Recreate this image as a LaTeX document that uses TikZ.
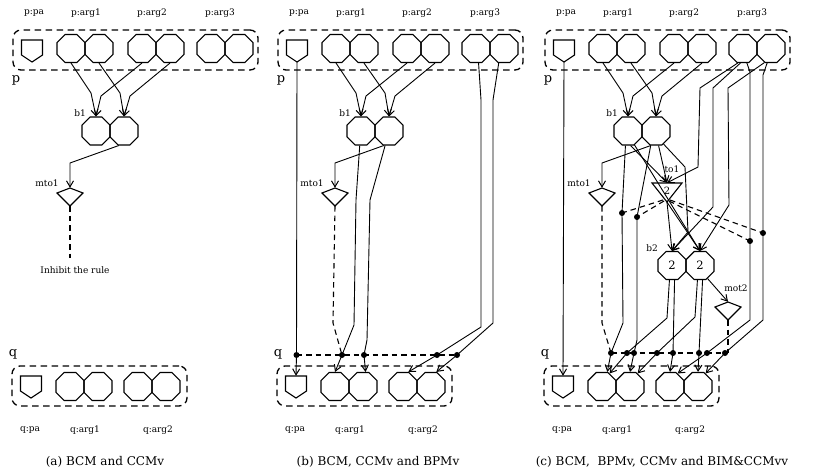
\documentclass[tikz,border=0pt]{standalone}
\usepackage{fontspec}
\setmainfont{DejaVu Serif}
\usetikzlibrary{arrows.meta,shapes.geometric,calc}

\tikzset{
 ln/.style={line width=0.9pt},
 arr/.style={line width=0.9pt,-{Straight Barb[length=6pt,width=7pt,line width=1pt]}},
 inh/.style={line width=1.1pt, dash pattern=on 5.5pt off 4pt},
 dbox/.style={draw, line width=1.3pt, dash pattern=on 6.5pt off 4.5pt, rounded corners=8pt, inner sep=0pt},
 oct/.style={draw, line width=1.1pt, regular polygon, regular polygon sides=8, minimum size=30.3pt, inner sep=0pt, font=\fontsize{11.5}{12}\selectfont},
 dot/.style={circle, fill, inner sep=0pt, minimum size=6pt},
 lbl/.style={font=\fontsize{9}{10}\selectfont, inner sep=0pt},
 bigl/.style={font=\fontsize{13}{14}\selectfont, inner sep=0pt},
 capt/.style={font=\fontsize{12}{14}\selectfont, inner sep=0pt},
 shp/.style={line width=1.1pt},
}

\newcommand\pentnode[3]{%
 \node[inner sep=0pt, minimum width=21pt, minimum height=22pt] (#1) at ({#2},{#3+11}) {};
 \draw[shp] ({#2-10.5},{#3}) -- ({#2+10.5},{#3}) -- ({#2+10.5},{#3+15}) -- ({#2},{#3+22}) -- ({#2-10.5},{#3+15}) -- cycle;
}
\newcommand\kitenode[3]{%
 \node[inner sep=0pt, minimum width=26pt, minimum height=18pt] (#1) at ({#2},{#3+9}) {};
 \draw[shp] ({#2},{#3}) -- ({#2+13},{#3+5}) -- ({#2},{#3+18}) -- ({#2-13},{#3+5}) -- cycle;
}
\newcommand\basepanel[2]{%
 \node[lbl] (#1-lpa) at ({#2+34},13) {p:pa};
 \node[lbl] (#1-la1) at ({#2+86},13) {p:arg1};
 \node[lbl] (#1-la2) at ({#2+152},13) {p:arg2};
 \node[lbl] (#1-la3) at ({#2+220},13) {p:arg3};
 \node[dbox, minimum width=245pt, minimum height=40pt] (#1-pbox) at ({#2+135.5},50) {};
 \node[bigl] (#1-lp) at ({#2+16},80) {p};
 \pentnode{#1-pa}{#2+32}{40}
 \node[oct] (#1-a1L) at ({#2+71},48.5) {};
 \node[oct] (#1-a1R) at ({#2+99},48.5) {};
 \node[oct] (#1-a2L) at ({#2+142},48.5) {};
 \node[oct] (#1-a2R) at ({#2+170},48.5) {};
 \node[oct] (#1-a3L) at ({#2+211},48.5) {};
 \node[oct] (#1-a3R) at ({#2+239},48.5) {};
 \node[oct] (#1-b1L) at ({#2+96},131) {};
 \node[oct] (#1-b1R) at ({#2+124},131) {};
 \node[lbl] (#1-lb1) at ({#2+80},113) {b1};
 \kitenode{#1-mto}{#2+70}{188}
 \node[lbl] (#1-lmto) at ({#2+47},183) {mto1};
 \draw[arr] (#1-a1L.south) -- ({#2+91},93) -- (#1-b1L.north);
 \draw[arr] (#1-a2L.south) -- ({#2+101},96) -- (#1-b1L.north);
 \draw[arr] (#1-a1R.south) -- ({#2+120},93) -- (#1-b1R.north);
 \draw[arr] (#1-a2R.south) -- ({#2+130},96) -- (#1-b1R.north);
 \draw[arr] (#1-b1R.-110) -- ({#2+70},163) -- (#1-mto.north);
 \node[bigl] (#1-lq) at ({#2+13},354) {q};
 \node[dbox, minimum width=175pt, minimum height=40pt] (#1-qbox) at ({#2+99.5},386) {};
 \pentnode{#1-qpa}{#2+31}{376}
 \node[oct] (#1-q1L) at ({#2+70},386.5) {};
 \node[oct] (#1-q1R) at ({#2+98},386.5) {};
 \node[oct] (#1-q2L) at ({#2+138},386.5) {};
 \node[oct] (#1-q2R) at ({#2+166},386.5) {};
 \node[lbl] (#1-lqpa) at ({#2+30},430) {q:pa};
 \node[lbl] (#1-lq1) at ({#2+85},430) {q:arg1};
 \node[lbl] (#1-lq2) at ({#2+158},430) {q:arg2};
}

\begin{document}
\begin{tikzpicture}[x=1pt,y=-1pt]
\fill[white] (0,0) rectangle (814,475);
\useasboundingbox (0,0) rectangle (814,475);

\basepanel{a}{0}
\basepanel{b}{265}
\basepanel{c}{532}

% ---------- panel (a)
\draw[inh] (a-mto.south) -- (70,258);
\node[lbl] (a-inh) at (75,270) {Inhibit the rule};

% ---------- panel (b)
\node[dot] (b-d1) at (296.5,355) {};
\node[dot] (b-d2) at (342,355) {};
\node[dot] (b-d3) at (364,355) {};
\node[dot] (b-d4) at (437,355) {};
\node[dot] (b-d5) at (457,355) {};
\draw[inh] (b-d1.center) -- (b-d5.center);
\draw[arr] (b-pa.south) -- (b-d1.center) -- (b-qpa.north);
\draw[arr] (b-b1L.-95) -- (356,200) -- (354,325) -- (b-d2.center) -- (b-q1L.north);
\draw[arr] (b-b1R.-105) -- (370,200) -- (367,340) -- (b-d3.center) -- (b-q1R.80);
\draw[inh] (b-mto.south) -- (333,323) -- (b-d2.center);
\draw[arr] (b-a3L.-80) -- (481,100) -- (481,327) -- (b-d4.center) -- (b-q2L.70);
\draw[arr] (b-a3R.-110) -- (493,100) -- (493,323) -- (b-d5.center) -- (b-q2R.70);

% ---------- panel (c)
\node[inner sep=0pt, minimum width=30pt, minimum height=19pt] (c-to1) at (667,192.5) {};
\draw[shp] (652,183) -- (682,183) -- (667,202) -- cycle;
\node[font=\fontsize{10}{11}\selectfont, inner sep=0pt] (c-to1n) at (667,190.5) {2};
\node[lbl] (c-lto1) at (672,169) {to1};
\node[oct] (c-b2L) at (672,265.5) {2};
\node[oct] (c-b2R) at (700,265.5) {2};
\node[lbl] (c-lb2) at (652,248) {b2};
\kitenode{c-mot}{728}{302}
\node[lbl] (c-lmot) at (736,288) {mot2};

\node[dot] (c-t1) at (622,213) {};
\node[dot] (c-t2) at (637,217) {};
\node[dot] (c-t3) at (750,241) {};
\node[dot] (c-t4) at (763,233) {};
\node[dot] (c-e1) at (611,353) {};
\node[dot] (c-e2) at (627,353) {};
\node[dot] (c-e3) at (634,353) {};
\node[dot] (c-e4) at (657,353) {};
\node[dot] (c-e5) at (673,353) {};
\node[dot] (c-e6) at (699,353) {};
\node[dot] (c-e7) at (707,353) {};
\node[dot] (c-e8) at (725,353) {};

\draw[arr] (c-pa.south) -- (c-qpa.north);
\draw[arr] (c-b1L.-100) -- (c-t1.center) -- (623,323) -- (c-e1.center) -- (c-q1L.70);
\draw[arr] (c-b1R.-110) -- (c-t2.center) -- (637,340) -- (c-e3.center) -- (c-q1R.north);
\draw[inh] (c-mto.south) -- (602,323) -- (c-e1.center);
\draw[inh] (c-e1.center) -- (728,353);
\draw[inh] (c-mot.south) -- (728,353);

\draw[arr] (c-b1L.-80) -- (c-to1.north);
\draw[arr] (c-b1R.-80) -- (c-to1.north);
\draw[arr] (c-a3L.-110) -- (700,88) -- (698,167) -- (c-to1.north);
\draw[arr] (c-b1L.-65) -- (c-b2R.north);
\draw[arr] (c-b1R.-60) -- (685,167) -- (688,232) -- (c-b2L.north);
\draw[arr] (c-to1.south) -- (c-b2L.north);
\draw[arr] (c-to1.south) -- (c-b2R.north);
\draw[arr] (c-a3L.-100) -- (713,88) -- (713,207) -- (c-b2L.north);
\draw[arr] (c-a3R.-115) -- (728,88) -- (729,205) -- (c-b2R.north);

\draw[inh] (663,200) -- (c-t1.center);
\draw[inh] (664,201) -- (c-t2.center);
\draw[inh] (670,200) -- (c-t4.center);
\draw[inh] (669,201) -- (c-t3.center);

\draw[arr] (c-a3L.-75) -- (750,72) -- (c-t3.center) -- (750,320) -- (c-e7.center) -- (c-q2L.60);
\draw[arr] (c-a3R.-105) -- (763,75) -- (c-t4.center) -- (763,320) -- (c-e8.center) -- (c-q2R.60);

\draw[arr] (c-b2L.-100) -- (667,318) -- (c-e2.center) -- (c-q1L.60);
\draw[arr] (c-b2R.-100) -- (695,317) -- (c-e4.center) -- (c-q1R.60);
\draw[arr] (c-b2L.-80) -- (c-e5.center) -- (c-q2L.north);
\draw[arr] (c-b2R.-80) -- (c-e6.center) -- (c-q2R.north);
\draw[arr] (c-b2R.-60) -- (c-mot.north);

% ---------- captions
\node[capt] (capa) at (105,462) {(a) BCM and CCMv};
\node[capt] (capb) at (378,462) {(b) BCM, CCMv and BPMv};
\node[capt] (capc) at (662,462) {(c) BCM,\ \ BPMv, CCMv and BIM\&CCMvv};
\end{tikzpicture}
\end{document}
